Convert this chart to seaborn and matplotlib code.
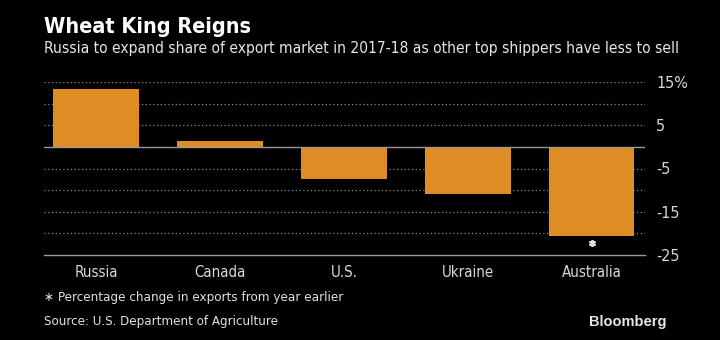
import matplotlib
matplotlib.use("Agg")
import matplotlib.pyplot as plt
from matplotlib import font_manager as fm
import seaborn as sns
import pandas as pd

countries = ["Russia", "Canada", "U.S.", "Ukraine", "Australia"]
change_pct = [13.4, 1.3, -7.5, -11.0, -20.5]
ytick_vals = [15, 5, -5, -15, -25]
ytick_labels = ["15%", "5", "-5", "-15", "-25"]
grid_vals = [15, 10, 5, -5, -10, -15, -20]

sns.set_theme(style="dark")

names = {f.name for f in fm.fontManager.ttflist}
if "Liberation Sans Narrow" in names:
    fam = ["Liberation Sans Narrow", "DejaVu Sans"]
    stretch = "normal"
else:
    fam = ["DejaVu Sans"]
    stretch = "condensed"
plt.rcParams["font.family"] = fam
plt.rcParams["font.stretch"] = stretch

df = pd.DataFrame({"country": countries, "change": change_pct})

fig = plt.figure(figsize=(7.2, 3.4), dpi=100, facecolor="black")
ax = fig.add_axes([44/720, 1-255/340, (645-44)/720, (255-82)/340])
ax.set_facecolor("black")

for g in grid_vals:
    ax.axhline(g, color="#8a8a8a", lw=0.9, ls=(0, (1, 2)), zorder=0)

sns.barplot(data=df, x="country", y="change", color="#E08C25", width=0.69,
            saturation=1, ax=ax, zorder=2, linewidth=0, edgecolor="none")
ax.axhline(0, color="#9a9a9a", lw=1.0, zorder=3)

ax.set_xlim(-0.42, 4.43)
ax.set_ylim(-25, 15)
ax.set_yticks(ytick_vals)
ax.set_yticklabels(ytick_labels)
ax.yaxis.tick_right()
ax.tick_params(axis="y", length=0, colors="#d8d8d8", labelsize=11.5, pad=8)
ax.tick_params(axis="x", length=3, colors="#d8d8d8", labelsize=10.8, pad=4,
               color="#9a9a9a", width=0.8, direction="out")
ax.set_xlabel("")
ax.set_ylabel("")
for s in ["top", "left", "right"]:
    ax.spines[s].set_visible(False)
ax.spines["bottom"].set_visible(True)
ax.spines["bottom"].set_color("#9a9a9a")
ax.spines["bottom"].set_linewidth(1.0)
ax.grid(False)

ax.plot([4], [-22.2], marker=(6, 2, 0), ms=5, color="#dcdcdc", mew=1.3, zorder=4)

t_title = fig.text(44/720, 1-27/340, "Wheat King Reigns", color="white", fontsize=16,
                   fontweight="bold", va="center", ha="left")
t_sub = fig.text(44/720, 1-49/340,
                 "Russia to expand share of export market in 2017-18 as other top shippers have less to sell",
                 color="#e6e6e6", fontsize=12, va="center", ha="left")
t_note = fig.text(44/720, 1-298/340, "\u2217 Percentage change in exports from year earlier",
                  color="#e0e0e0", fontsize=11, va="center", ha="left")
t_src = fig.text(44/720, 1-322/340, "Source: U.S. Department of Agriculture",
                 color="#e0e0e0", fontsize=11, va="center", ha="left")
t_bb = fig.text(667/720, 1-322/340, "Bloomberg", color="#e6e6e6", fontsize=12,
                fontweight="bold", va="center", ha="right",
                family=["Liberation Sans", "DejaVu Sans"], fontstretch="condensed")

# fit text widths to the reference
renderer = fig.canvas.get_renderer()
targets = [(t_title, 251 - 44), (t_sub, 678 - 44), (t_note, 343 - 44),
           (t_src, 277 - 44), (t_bb, 667 - 590)]
for t, w in targets:
    cur = t.get_window_extent(renderer).width
    if cur > 0:
        t.set_fontsize(t.get_fontsize() * w / cur)

fig.savefig("out.png", dpi=100, facecolor="black")
